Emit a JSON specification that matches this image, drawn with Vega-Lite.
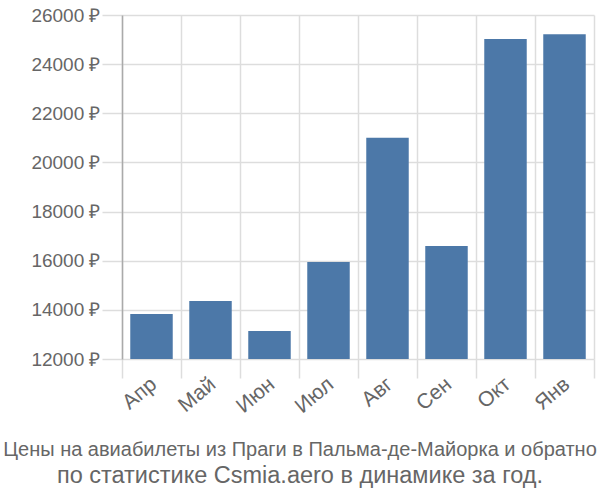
{
  "$schema": "https://vega.github.io/schema/vega-lite/v6.json",
  "width": 472,
  "height": 344,
  "autosize": {"type": "none"},
  "padding": {"left": 122, "top": 15, "right": 6, "bottom": 141},
  "background": "white",
  "title": {
    "text": "Цены на авиабилеты из Праги в Пальма-де-Майорка и обратно",
    "subtitle": "по статистике Csmia.aero в динамике за год.",
    "orient": "bottom",
    "anchor": "middle",
    "dx": -58,
    "offset": 24,
    "font": "Liberation Sans",
    "fontSize": 20,
    "fontWeight": "normal",
    "color": "#666",
    "subtitleFont": "Liberation Sans",
    "subtitleFontSize": 23.5,
    "subtitleColor": "#666",
    "subtitlePadding": 4
  },
  "data": {
    "values": [
      {"month": "Апр", "price": 13830},
      {"month": "Май", "price": 14360},
      {"month": "Июн", "price": 13140},
      {"month": "Июл", "price": 15950},
      {"month": "Авг", "price": 21000},
      {"month": "Сен", "price": 16600},
      {"month": "Окт", "price": 25020},
      {"month": "Янв", "price": 25220}
    ]
  },
  "mark": {"type": "bar", "color": "#4c78a8", "width": {"band": 0.72}},
  "encoding": {
    "x": {
      "field": "month",
      "type": "nominal",
      "sort": null,
      "scale": {"paddingInner": 0, "paddingOuter": 0},
      "axis": {
        "title": null,
        "tickBand": "extent",
        "grid": true,
        "gridColor": "#ddd",
        "gridWidth": 1.5,
        "domain": false,
        "ticks": true,
        "tickColor": "#ddd",
        "tickWidth": 1.5,
        "tickSize": 19,
        "labelAngle": -40,
        "labelAlign": "right",
        "labelBaseline": "top",
        "labelFont": "Liberation Sans",
        "labelFontSize": 21,
        "labelColor": "#666",
        "labelPadding": -5,
        "labelOffset": -5
      }
    },
    "y": {
      "field": "price",
      "type": "quantitative",
      "scale": {"domain": [12000, 26000], "nice": false, "zero": false},
      "axis": {
        "title": null,
        "values": [12000, 14000, 16000, 18000, 20000, 22000, 24000, 26000],
        "labelExpr": "format(datum.value, 'd') + ' ₽'",
        "grid": true,
        "gridColor": "#ddd",
        "gridWidth": 1.5,
        "domain": true,
        "domainColor": "#aaa",
        "domainWidth": 1.5,
        "ticks": true,
        "tickColor": "#ddd",
        "tickWidth": 1.5,
        "tickSize": 20,
        "labelPadding": 2,
        "labelFont": "Liberation Sans",
        "labelFontSize": 19,
        "labelColor": "#666"
      }
    },
    "y2": {"datum": 12000}
  },
  "config": {"view": {"stroke": null}}
}
